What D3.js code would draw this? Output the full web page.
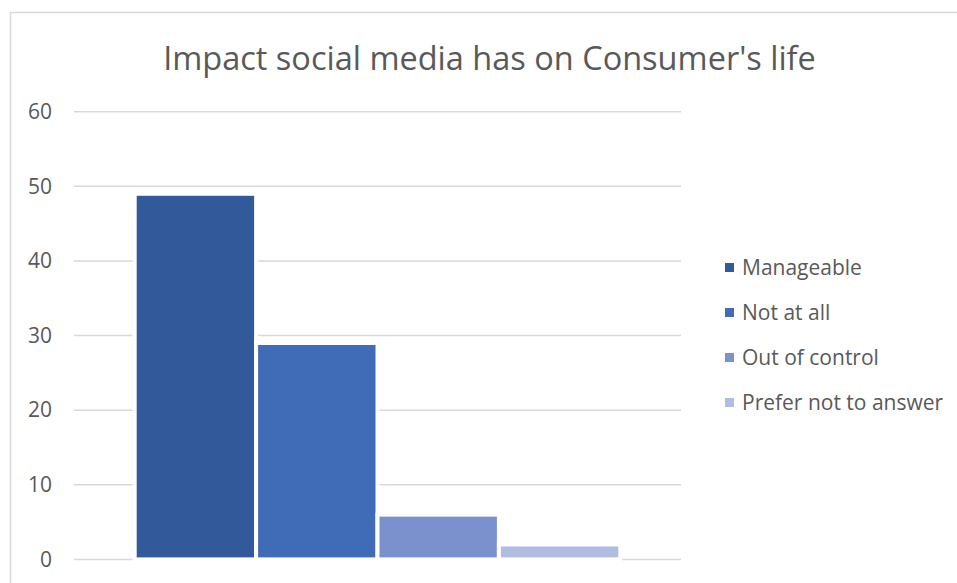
<!DOCTYPE html>
<html>
<head>
<meta charset="utf-8">
<script src="https://cdn.jsdelivr.net/npm/d3@7"></script>
<style>
  html, body { margin: 0; padding: 0; background: #fff; }
  svg { display: block; font-family: "Open Sans", "Noto Sans", sans-serif; }
</style>
</head>
<body>
<svg id="chart" width="957" height="583"></svg>
<script>
// Survey answers and their counts
const categories = ["Manageable", "Not at all", "Out of control", "Prefer not to answer"];
const values = [49, 29, 6, 2];
const yTicks = [0, 10, 20, 30, 40, 50, 60];
const colors = ["#325A9A", "#3F6BB7", "#7A91CE", "#B1BDE0"];
const title = "Impact social media has on Consumer's life";

const svg = d3.select("#chart");
const textColor = "#595959";
const gridColor = "#D9D9D9";

// chart area frame
svg.append("rect")
  .attr("x", 10.5).attr("y", 12.5)
  .attr("width", 1200).attr("height", 1200)
  .attr("fill", "#fff")
  .attr("stroke", gridColor).attr("stroke-width", 1.5);

const plot = { left: 74, right: 681, top: 111.7, bottom: 559.4 };

const y = d3.scaleLinear().domain([0, 60]).range([plot.bottom, plot.top]);
const x = d3.scaleBand().domain(categories)
  .range([plot.left, plot.right])
  .paddingInner(0).paddingOuter(0.5);

// horizontal gridlines
svg.append("g").selectAll("line").data(yTicks).join("line")
  .attr("x1", plot.left).attr("x2", plot.right)
  .attr("y1", d => y(d)).attr("y2", d => y(d))
  .attr("stroke", gridColor).attr("stroke-width", 1.5);

// value axis labels
const yAxis = d3.axisLeft(y).tickValues(yTicks).tickSize(0).tickPadding(0);
const gy = svg.append("g").attr("transform", "translate(52,0)").call(yAxis);
gy.select(".domain").remove();
gy.selectAll("text")
  .attr("fill", textColor)
  .style("font-size", "21px")
  .style("font-family", "'Open Sans', sans-serif");

// bars with white outlines
svg.append("g").selectAll("rect").data(categories).join("rect")
  .attr("x", d => x(d))
  .attr("y", (d, i) => y(values[i]))
  .attr("width", x.bandwidth())
  .attr("height", (d, i) => y(0) - y(values[i]))
  .attr("fill", (d, i) => colors[i])
  .attr("stroke", "#fff").attr("stroke-width", 4);

// title
svg.append("text")
  .attr("x", 489.5).attr("y", 69.5)
  .attr("text-anchor", "middle")
  .attr("fill", textColor)
  .style("font-size", "32.5px")
  .text(title);

// legend
const legend = svg.append("g").selectAll("g").data(categories).join("g")
  .attr("transform", (d, i) => `translate(725,${275 + i * 45})`);
legend.append("rect")
  .attr("x", 0).attr("y", -12).attr("width", 9).attr("height", 9)
  .attr("fill", (d, i) => colors[i]);
legend.append("text")
  .attr("x", 17).attr("y", 0)
  .attr("fill", textColor)
  .style("font-size", "21px")
  .text(d => d);
</script>
</body>
</html>
